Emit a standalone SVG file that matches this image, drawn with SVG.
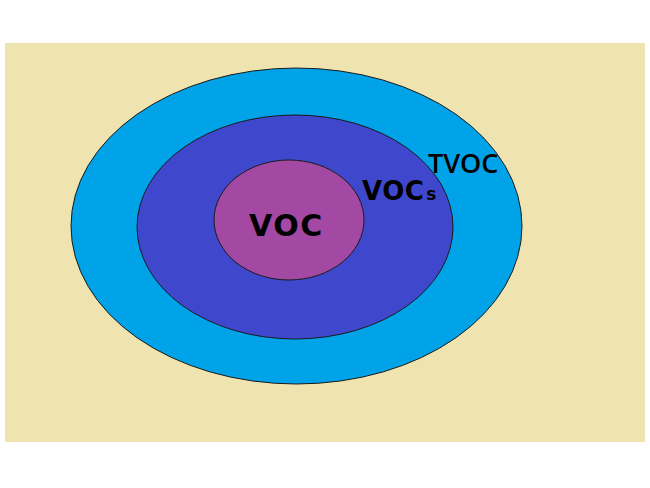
<svg xmlns="http://www.w3.org/2000/svg" width="650" height="488" viewBox="0 0 650 488">
<style>
.ring{stroke:#1a1a1a;stroke-width:1}
.lbl{fill:#000;font-family:"Open Sans","DejaVu Sans",sans-serif}
.wide{font-family:"DejaVu Sans",Verdana,sans-serif;font-weight:700}
</style>
<rect x="0" y="0" width="650" height="488" fill="#ffffff"/>
<rect x="5" y="43" width="640" height="399" fill="#EFE4B0"/>
<g id="tvoc">
<ellipse class="ring" cx="296.5" cy="226" rx="225.5" ry="158" fill="#00A2E8"/>
<text class="lbl" x="428" y="173" font-size="27" font-weight="600">TVOC</text>
</g>
<g id="vocs">
<ellipse class="ring" cx="295" cy="227" rx="158" ry="112" fill="#3F48CC"/>
<text class="lbl wide" x="362" y="200" font-size="26" letter-spacing="0.5">VOC<tspan font-size="17" dx="2">s</tspan></text>
</g>
<g id="voc">
<ellipse class="ring" cx="289" cy="220" rx="75" ry="60" fill="#A349A4"/>
<text class="lbl wide" x="249" y="236" font-size="30" letter-spacing="1.5">VOC</text>
</g>
</svg>
